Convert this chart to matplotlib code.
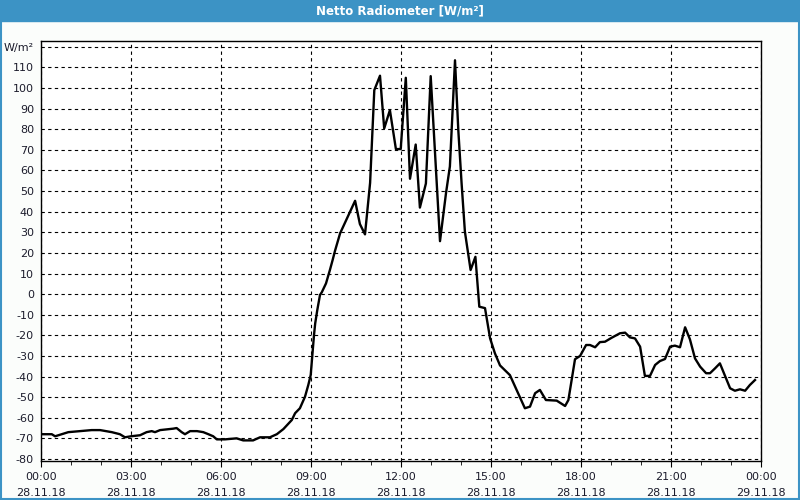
import matplotlib.pyplot as plt
from matplotlib.patches import Rectangle

# time in hours since 28.11.18 00:00, value in W/m²
hours = [0.00, 0.36, 0.47, 0.69, 0.91, 1.30, 1.69, 1.97, 2.36, 2.63, 2.80, 3.00,
         3.30, 3.52, 3.69, 3.80, 3.97, 4.41, 4.52, 4.69, 4.80, 4.97, 5.20, 5.41,
         5.58, 5.74, 5.86, 6.13, 6.52, 6.74, 7.07, 7.30, 7.63, 7.86, 8.08, 8.36,
         8.47, 8.63, 8.80, 8.91, 8.99, 9.04, 9.10, 9.14, 9.21, 9.30, 9.36, 9.50,
         9.63, 9.72, 9.80, 9.97, 10.30, 10.47, 10.63, 10.80, 10.97, 11.11, 11.30,
         11.44, 11.63, 11.83, 11.99, 12.16, 12.30, 12.49, 12.63, 12.83, 12.99,
         13.30, 13.50, 13.63, 13.80, 13.91, 14.02, 14.13, 14.32, 14.48, 14.61,
         14.80, 14.97, 15.13, 15.30, 15.63, 16.13, 16.30, 16.47, 16.63, 16.83,
         17.19, 17.47, 17.58, 17.80, 17.97, 18.17, 18.30, 18.47, 18.63, 18.80,
         19.02, 19.30, 19.47, 19.63, 19.80, 19.97, 20.13, 20.30, 20.47, 20.63,
         20.80, 20.97, 21.13, 21.30, 21.47, 21.63, 21.80, 21.97, 22.17, 22.30,
         22.47, 22.63, 22.80, 22.97, 23.13, 23.30, 23.47, 23.63, 23.80]
netto = [-68, -68, -69, -68, -67, -66.5, -66, -66, -67, -68, -69.5, -69,
         -68.5, -67, -66.5, -67, -66, -65.3, -65, -67, -68, -66.5, -66.5, -67,
         -68, -69, -70.5, -70.5, -70, -71, -71, -69.5, -69.5, -68, -65.5, -61.1,
         -57.8, -55.4, -49.8, -44.1, -39.3, -30.4, -19.9, -14.2, -7.7, -0.4, 0.9, 5.2,
         11.7, 16.5, 21, 29.5, 40, 45.3, 34, 29, 54, 99, 106,
         80.4, 89.3, 70.4, 70.4, 105, 56, 72.6, 42, 53.7, 105.8,
         25.7, 49, 62, 113.5, 79.6, 53.7, 30.3, 11.7, 18.1, -6.1,
         -6.8, -21.5, -28.7, -34.6, -39.3, -55.4, -54.6, -48.1, -46.5, -51.4,
         -51.7, -54.3, -51.4, -31.6, -30, -24.7, -24.7, -25.8, -23.3, -23.1,
         -21.2, -19, -18.7, -21, -21.5, -25.5, -39.7, -39.7, -34.4, -32.5,
         -31.5, -25.5, -25, -25.8, -16.1, -21.9, -31.2, -35.2, -38.4, -38.4,
         -36, -33.6, -39.7, -45.7, -46.9, -46.2, -46.9, -44.1, -41.7]

x_ticks = [0, 3, 6, 9, 12, 15, 18, 21, 24]
x_labels = ['00:00\n28.11.18', '03:00\n28.11.18', '06:00\n28.11.18', '09:00\n28.11.18',
            '12:00\n28.11.18', '15:00\n28.11.18', '18:00\n28.11.18', '21:00\n28.11.18',
            '00:00\n29.11.18']
y_ticks = list(range(-80, 121, 10))
y_labels = [str(v) for v in y_ticks[:-1]] + ['W/m²']

fig = plt.figure(figsize=(8, 5), dpi=100, facecolor='#fbfdfb')
# title bar and frame
fig.patches.append(Rectangle((0, 0.958), 1, 0.042, transform=fig.transFigure,
                             color='#3c93c5', zorder=0))
fig.patches.append(Rectangle((0.001, 0.002), 0.998, 0.996, transform=fig.transFigure,
                             fill=False, edgecolor='#3c93c5', lw=1.5, zorder=0))
fig.text(0.5, 0.979, 'Netto Radiometer [W/m²]', color='white', fontsize=8.5,
         fontweight='bold', ha='center', va='center')

ax = fig.add_axes([0.05125, 0.078, 0.9, 0.8406])
ax.set_facecolor('white')
ax.plot(hours, netto, color='black', lw=1.7)

ax.set_xlim(0, 24)
ax.set_ylim(-81, 123)
ax.set_xticks(x_ticks)
ax.set_xticklabels(x_labels, fontsize=8, color='#1c1c2c', linespacing=1.75)
ax.set_xticks(range(0, 25), minor=True)
ax.set_yticks(y_ticks)
ax.set_yticklabels(y_labels, fontsize=8, color='#1c1c2c')
ax.tick_params(axis='y', length=0, pad=5)
ax.tick_params(axis='x', which='major', length=4, pad=4)
ax.tick_params(axis='x', which='minor', length=3)
ax.grid(True, color='black', linestyle=(0, (3, 3)), lw=0.8)
for s in ax.spines.values():
    s.set_color('black')
    s.set_linewidth(1)

fig.savefig('out.png', dpi=100, facecolor=fig.get_facecolor())
